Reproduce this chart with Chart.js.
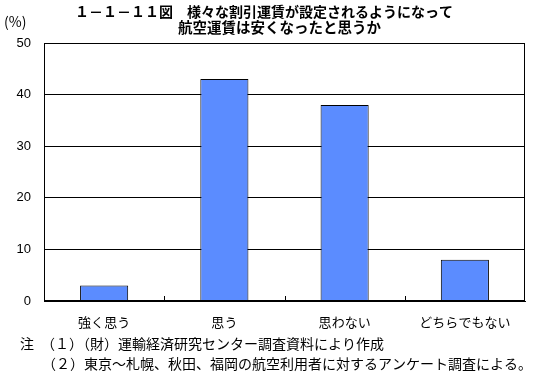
<!DOCTYPE html>
<html>
<head>
<meta charset="utf-8">
<script src="https://cdn.jsdelivr.net/npm/chart.js@4.4.1/dist/chart.umd.min.js"></script>
<style>
  html, body { margin: 0; padding: 0; background: #fff; }
  #wrap { position: relative; width: 547px; height: 379px; }
  canvas { position: absolute; left: 0; top: 0; }
</style>
</head>
<body>
<div id="wrap"><canvas id="c" width="547" height="379"></canvas></div>
<script>
const titleLines = ["１－１－１１図　様々な割引運賃が設定されるようになって", "航空運賃は安くなったと思うか"];
const unitLabel = "(%)";
const categories = ["強く思う", "思う", "思わない", "どちらでもない"];
const values = [3, 43, 38, 8];
const yTicks = [0, 10, 20, 30, 40, 50];
const notes = ["注　（１）（財）運輸経済研究センター調査資料により作成", "（２）東京～札幌、秋田、福岡の航空利用者に対するアンケート調査による。"];

const JP = '"Noto Sans CJK JP", sans-serif';

const extras = {
  id: 'extras',
  afterDraw(chart) {
    const ctx = chart.ctx;
    const x = chart.scales.x, y = chart.scales.y;
    ctx.save();
    ctx.strokeStyle = '#000';
    ctx.lineWidth = 1;
    for (let i = 1; i < categories.length; i++) {
      const px = Math.round((x.getPixelForValue(i - 1) + x.getPixelForValue(i)) / 2) + 0.5;
      ctx.beginPath();
      ctx.moveTo(px, y.bottom);
      ctx.lineTo(px, y.bottom - 5);
      ctx.stroke();
    }
    ctx.fillStyle = '#000';
    ctx.textBaseline = 'middle';
    ctx.textAlign = 'left';
    ctx.font = 'bold 14px ' + JP;
    ctx.fillText(titleLines[0], 75, 12);
    ctx.font = 'bold 14.5px ' + JP;
    ctx.fillText(titleLines[1], 178, 27);
    ctx.font = '14px ' + JP;
    ctx.fillText(unitLabel, 4, 22);
    ctx.font = '14px ' + JP;
    ctx.fillText(notes[0], 20, 344);
    ctx.fillText(notes[1], 42, 364);
    ctx.restore();
  }
};

new Chart(document.getElementById('c'), {
  type: 'bar',
  data: {
    labels: categories,
    datasets: [{
      data: values,
      backgroundColor: '#5B8CFF',
      borderColor: '#000',
      borderWidth: 1,
      borderSkipped: 'bottom',
      categoryPercentage: 0.4,
      barPercentage: 1.0
    }]
  },
  options: {
    responsive: false,
    animation: false,
    devicePixelRatio: 1,
    layout: { padding: { top: 43, right: 22, bottom: 48, left: 0 } },
    plugins: { legend: { display: false }, tooltip: { enabled: false }, title: { display: false } },
    scales: {
      x: {
        grid: { display: false, drawTicks: false },
        border: { color: '#000', width: 1 },
        ticks: { color: '#000', font: { family: JP, size: 13 }, padding: 13, maxRotation: 0 },
        afterFit(s) { s.height = 30; }
      },
      y: {
        min: 0, max: 50,
        afterBuildTicks(s) { s.ticks = yTicks.map(v => ({ value: v })); },
        grid: { color: '#000', lineWidth: 1, drawTicks: false },
        border: { color: '#000', width: 1 },
        ticks: { color: '#000', font: { family: '"Liberation Sans", Arial, sans-serif', size: 13 }, padding: 13 },
        afterFit(s) { s.width = 44; }
      }
    }
  },
  plugins: [extras, {
    id: 'frame',
    afterDatasetsDraw(chart) {
      const a = chart.chartArea, ctx = chart.ctx;
      ctx.save();
      ctx.strokeStyle = '#000';
      ctx.lineWidth = 1;
      ctx.strokeRect(Math.round(a.left) + 0.5, Math.round(a.top) + 0.5, Math.round(a.right - a.left) - 1, Math.round(a.bottom - a.top) - 1);
      ctx.restore();
    }
  }]
});
</script>
</body>
</html>
